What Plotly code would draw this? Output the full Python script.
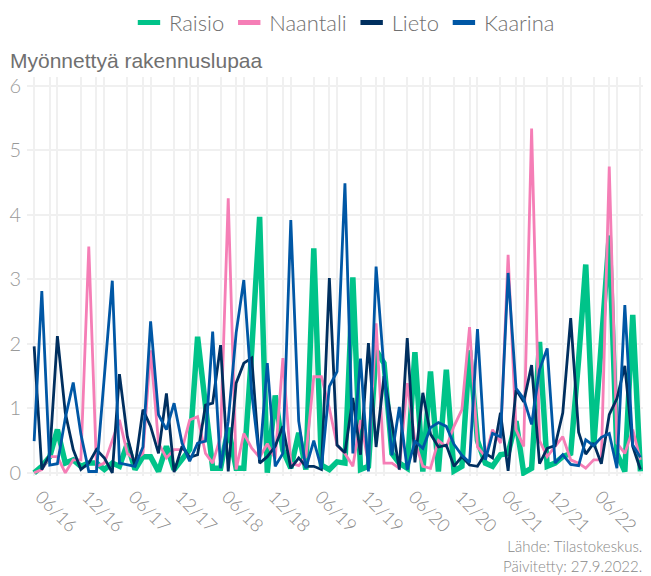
import pandas as pd
import plotly.graph_objects as go

months = pd.date_range("2016-04-01", periods=79, freq="MS")

raisio = [0.0, 0.1, 0.25, 0.67, 0.15, 0.2, 0.1, 0.15, 0.15, 0.05,
          0.15, 0.1, 0.45, 0.05, 0.25, 0.25, 0.02, 0.41, 0.05, 0.2,
          0.36, 2.11, 1.05, 0.07, 0.07, 0.7, 0.07, 0.07, 1.9, 3.97,
          0.0, 1.2, 0.35, 0.07, 0.62, 0.05, 3.48, 0.12, 0.05, 0.17,
          0.15, 3.03, 0.05, 0.1, 1.9, 1.7, 0.3, 0.15, 0.07, 1.87,
          0.02, 1.57, 0.02, 1.6, 0.03, 0.1, 1.9, 0.5, 0.15, 0.1,
          0.28, 0.3, 0.8, 0.0, 0.07, 2.03, 0.1, 0.15, 0.25, 0.3,
          1.75, 3.23, 0.4, 1.9, 3.68, 0.3, 0.02, 2.45, 0.02]

naantali = [0.0, 0.05, 0.25, 0.25, 0.0, 0.2, 0.2, 3.51, 0.1, 0.15,
            0.5, 0.82, 0.3, 0.2, 0.3, 1.9, 0.46, 0.23, 0.36, 0.36,
            0.82, 0.87, 0.3, 0.15, 0.56, 4.26, 0.05, 0.61, 0.38, 0.24,
            0.45, 0.22, 1.78, 0.15, 0.11, 0.25, 1.49, 1.49, 1.0, 0.43,
            0.3, 0.1, 0.82, 0.15, 2.32, 0.15, 0.15, 0.07, 1.39, 0.49,
            0.1, 0.07, 0.5, 0.4, 0.72, 0.98, 2.26, 0.4, 0.25, 0.67,
            0.46, 3.38, 0.67, 0.41, 5.34, 0.5, 0.25, 0.41, 0.56, 0.2,
            0.15, 0.07, 0.2, 0.2, 4.75, 0.46, 0.3, 0.67, 0.2]

lieto = [1.96, 0.05, 0.28, 2.12, 0.93, 0.36, 0.05, 0.15, 0.36, 0.23,
         0.0, 1.53, 0.56, 0.1, 0.98, 0.72, 0.3, 1.23, 0.01, 0.41,
         0.24, 0.28, 1.05, 1.08, 1.98, 0.02, 1.39, 1.7, 1.78, 0.15,
         0.25, 0.41, 0.72, 0.07, 0.23, 0.1, 0.1, 0.05, 3.02, 0.43,
         0.31, 1.16, 0.28, 2.01, 0.4, 1.5, 0.77, 0.05, 2.09, 0.16,
         1.24, 0.6, 0.4, 0.43, 0.1, 0.25, 0.12, 0.1, 0.3, 0.23,
         0.93, 0.03, 1.29, 1.1, 1.67, 0.14, 0.38, 0.42, 0.93, 2.4,
         0.63, 0.29, 0.46, 0.14, 0.9, 1.15, 1.66, 0.41, 0.05]

kaarina = [0.49, 2.82, 0.12, 0.14, 0.85, 1.4, 0.6, 0.02, 0.02, 1.5,
           2.98, 0.15, 0.12, 0.1, 0.4, 2.35, 0.9, 0.67, 1.08, 0.46,
           0.18, 0.46, 0.49, 2.19, 0.07, 0.8, 2.17, 2.99, 1.24, 0.2,
           1.7, 0.1, 0.3, 3.92, 0.8, 0.07, 0.5, 0.07, 1.34, 1.57,
           4.49, 0.3, 1.77, 0.02, 3.2, 1.6, 0.27, 1.02, 0.05, 0.49,
           0.38, 0.7, 0.78, 0.72, 0.44, 0.27, 0.16, 2.23, 0.2, 0.61,
           0.56, 3.1, 1.31, 1.15, 0.75, 1.6, 1.93, 0.15, 0.28, 0.13,
           0.11, 0.51, 0.42, 0.55, 0.61, 0.07, 2.6, 0.43, 0.24]

series_names = ["Raisio", "Naantali", "Lieto", "Kaarina"]
series_values = [raisio, naantali, lieto, kaarina]
colors = ["#00C389", "#F57EB6", "#002F5F", "#0057A5"]
widths = [5.5, 2.8, 2.8, 2.8]

title_text = "Myönnettyä rakennuslupaa"
source_text = "Lähde: Tilastokeskus.<br>Päivitetty: 27.9.2022."

fig = go.Figure()
for name, vals, col, w in zip(series_names, series_values, colors, widths):
    fig.add_trace(go.Scatter(x=months, y=vals, mode="lines", name=name,
                             line=dict(color=col, width=w), showlegend=False,
                             hoverinfo="x+y+name"))
for name, col in zip(series_names, colors):
    fig.add_trace(go.Scatter(x=[None], y=[None], mode="markers", name=name,
                             marker=dict(symbol="line-ew", size=16, color=col,
                                         line=dict(color=col, width=5))))

grid = "#F0F0F0"
fig.update_layout(
    width=651, height=576,
    margin=dict(l=19, r=14, t=69, b=108, autoexpand=False),
    paper_bgcolor="white", plot_bgcolor="white",
    font=dict(family="Lato", color="#777777"),
    legend=dict(orientation="h", x=0.165, xanchor="left", y=1.136, yanchor="middle",
                font=dict(family="Lato", size=22, color="#707070", weight=300),
                itemwidth=30, tracegroupgap=0),
    xaxis=dict(type="date", range=["2016-03-04", "2022-10-19"],
               tick0="2016-06-01", dtick="M6", tickformat="%m/%y",
               tickangle=45, showgrid=True, gridcolor=grid, gridwidth=2,
               zeroline=False, showline=False, ticks="",
               ticklabelshift=-9, ticklabelstandoff=6,
               tickfont=dict(family="Lato", size=18, color="#888888", weight=300),
               minor=dict(dtick="M3", showgrid=True, gridcolor=grid, gridwidth=2)),
    yaxis=dict(range=[-0.05, 6.14], tickvals=[0, 1, 2, 3, 4, 5, 6],
               showgrid=True, gridcolor=grid, gridwidth=2, zeroline=False,
               ticks="", ticklabelstandoff=5,
               tickfont=dict(family="Lato", size=20, color="#999999", weight=300)),
    annotations=[
        dict(text=title_text, xref="paper", yref="paper", x=-0.031, y=1.042,
             xanchor="left", yanchor="middle", showarrow=False,
             font=dict(family="Liberation Sans", size=21, color="#707070")),
        dict(text=source_text, xref="paper", yref="paper", x=0.998, y=-0.149,
             xanchor="right", yanchor="top", showarrow=False, align="right",
             font=dict(family="Lato", size=15, color="#888888", weight=300)),
    ],
)

fig.write_html("out.html")
